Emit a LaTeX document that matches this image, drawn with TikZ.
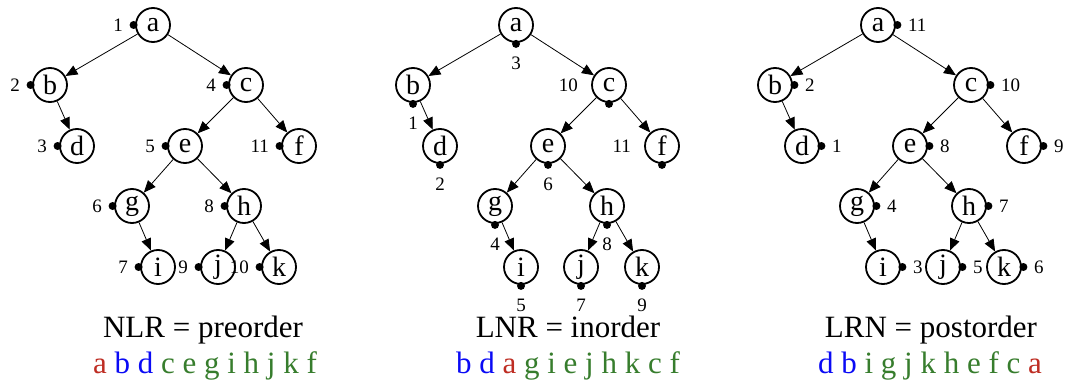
\documentclass[tikz,border=0pt]{standalone}
\usepackage{fontspec}
\setmainfont{Liberation Serif}
\usetikzlibrary{arrows.meta}
\definecolor{cred}{RGB}{190,45,35}
\definecolor{cblue}{RGB}{10,10,245}
\definecolor{cgreen}{RGB}{55,125,45}
\tikzset{
  tn/.style={circle,draw,line width=1.8pt,minimum size=34pt,inner sep=0pt,font=\fontsize{28}{28}\selectfont},
  edge/.style={line width=0.8pt,-{Triangle[length=12pt,width=10pt]}},
  num/.style={inner sep=0pt,font=\fontsize{19}{19}\selectfont},
  title/.style={inner sep=0pt,anchor=base,font=\fontsize{31}{31}\selectfont},
  dotr/.style={fill=black}
}
\newcommand\mytree[1]{%
  \node[tn] (#1a) at (0,0) {a};
  \node[tn] (#1b) at (-103,60) {b};
  \node[tn] (#1c) at (93,60) {c};
  \node[tn] (#1d) at (-76,121) {d};
  \node[tn] (#1e) at (32,121) {e};
  \node[tn] (#1f) at (146,121) {f};
  \node[tn] (#1g) at (-21,181) {g};
  \node[tn] (#1h) at (91,181) {h};
  \node[tn] (#1i) at (5,242) {i};
  \node[tn] (#1j) at (65,242) {j};
  \node[tn] (#1k) at (126,242) {k};
  \draw[edge] (#1a) -- (#1b);
  \draw[edge] (#1a) -- (#1c);
  \draw[edge] (#1b) -- (#1d);
  \draw[edge] (#1c) -- (#1e);
  \draw[edge] (#1c) -- (#1f);
  \draw[edge] (#1e) -- (#1g);
  \draw[edge] (#1e) -- (#1h);
  \draw[edge] (#1g) -- (#1i);
  \draw[edge] (#1h) -- (#1j);
  \draw[edge] (#1h) -- (#1k);
}
% preorder: dot west, label left
\newcommand\pre[3]{%
  \fill ([xshift=-1.5pt]#1#2.west) circle (4pt);
  \node[num,anchor=east] (#1n#2) at ([xshift=-12pt]#1#2.west) {#3};
}
% postorder: dot east, label right
\newcommand\post[3]{%
  \fill ([xshift=1.5pt]#1#2.east) circle (4pt);
  \node[num,anchor=west] (#1n#2) at ([xshift=12pt]#1#2.east) {#3};
}
% inorder: dot south, label below
\newcommand\inb[3]{%
  \fill ([yshift=-1pt]#1#2.south) circle (4pt);
  \node[num] (#1n#2) at ([yshift=-20pt]#1#2.south) {#3};
}
\newcommand\inl[3]{%
  \fill ([yshift=-1pt]#1#2.south) circle (4pt);
  \node[num,anchor=east] (#1n#2) at ([xshift=-13pt]#1#2.west) {#3};
}
\begin{document}
\begin{tikzpicture}[x=1pt,y=-1pt]
\useasboundingbox (0,0) rectangle (1070,385);
% left: preorder
\begin{scope}[shift={(153,25)}]
  \mytree{L}
  \pre{L}{a}{1}\pre{L}{b}{2}\pre{L}{d}{3}\pre{L}{c}{4}\pre{L}{e}{5}
  \pre{L}{g}{6}\pre{L}{i}{7}\pre{L}{h}{8}\pre{L}{j}{9}\pre{L}{k}{10}\pre{L}{f}{11}
\end{scope}
% middle: inorder
\begin{scope}[shift={(516,25)}]
  \mytree{M}
  \inb{M}{b}{1}\inb{M}{d}{2}\inb{M}{a}{3}\inb{M}{g}{4}\inb{M}{i}{5}
  \inb{M}{e}{6}\inb{M}{j}{7}\inb{M}{h}{8}\inb{M}{k}{9}\inl{M}{c}{10}\inl{M}{f}{11}
\end{scope}
% right: postorder
\begin{scope}[shift={(878,25)}]
  \mytree{R}
  \post{R}{d}{1}\post{R}{b}{2}\post{R}{i}{3}\post{R}{g}{4}\post{R}{j}{5}
  \post{R}{k}{6}\post{R}{h}{7}\post{R}{e}{8}\post{R}{f}{9}\post{R}{c}{10}\post{R}{a}{11}
\end{scope}
% titles
\node[title] (t1) at (203,337) {NLR = preorder};
\node[title] (t2) at (568,337) {LNR = inorder};
\node[title] (t3) at (931,337) {LRN = postorder};
\node[title] (s1) at (205,373) {\textcolor{cred}{a} \textcolor{cblue}{b} \textcolor{cblue}{d} \textcolor{cgreen}{c e g i h j k f}};
\node[title] (s2) at (568,373) {\textcolor{cblue}{b} \textcolor{cblue}{d} \textcolor{cred}{a} \textcolor{cgreen}{g i e j h k c f}};
\node[title] (s3) at (930,373) {\textcolor{cblue}{d b} \textcolor{cgreen}{i g j k h e f c} \textcolor{cred}{a}};
\end{tikzpicture}
\end{document}
